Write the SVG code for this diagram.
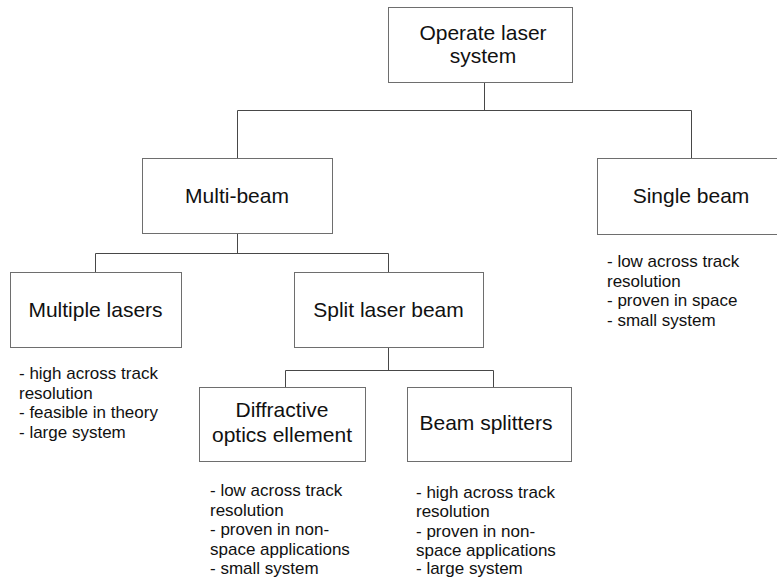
<svg xmlns="http://www.w3.org/2000/svg" width="777" height="578" viewBox="0 0 777 578">
  <style>
    .box { fill: #ffffff; stroke: #6e6e6e; stroke-width: 1; }
    .wire { fill: none; stroke: #474747; stroke-width: 1; }
    .title { font-family: "Liberation Sans", Arial, sans-serif; font-size: 21px; fill: #111; text-anchor: middle; }
    .note { font-family: "Liberation Sans", Arial, sans-serif; font-size: 17px; fill: #111; }
  </style>
  <rect width="777" height="578" fill="#ffffff"/>

  <!-- tree connectors -->
  <g id="connectors">
    <path class="wire" d="M484.5 82.5 V110.5 M237.5 158 V110.5 H691.5 V158"/>
    <path class="wire" d="M237.5 233 V253.5 M95.5 272 V253.5 H388.5 V272"/>
    <path class="wire" d="M388.5 347 V370.5 M285.5 387 V370.5 H493.5 V387"/>
  </g>

  <g id="operate">
    <rect class="box" x="388.5" y="7.5" width="184" height="75"/>
    <text class="title" x="483" y="40">Operate laser</text>
    <text class="title" x="483" y="63">system</text>
  </g>

  <g id="multi-beam">
    <rect class="box" x="142.5" y="158.5" width="190" height="75"/>
    <text class="title" x="237" y="203">Multi-beam</text>
  </g>

  <g id="single-beam">
    <rect class="box" x="597.5" y="158.5" width="190" height="76"/>
    <text class="title" x="691" y="203">Single beam</text>
    <text class="note" x="607" y="267">- low across track</text>
    <text class="note" x="607" y="286.5">resolution</text>
    <text class="note" x="607" y="306">- proven in space</text>
    <text class="note" x="607" y="325.5">- small system</text>
  </g>

  <g id="multiple-lasers">
    <rect class="box" x="10.5" y="272.5" width="171" height="75"/>
    <text class="title" x="95.5" y="317">Multiple lasers</text>
    <text class="note" x="19" y="379">- high across track</text>
    <text class="note" x="19" y="398.5">resolution</text>
    <text class="note" x="19" y="418">- feasible in theory</text>
    <text class="note" x="19" y="437.5">- large system</text>
  </g>

  <g id="split-beam">
    <rect class="box" x="294.5" y="272.5" width="189" height="75"/>
    <text class="title" x="388.5" y="317">Split laser beam</text>
  </g>

  <g id="diffractive">
    <rect class="box" x="199.5" y="387.5" width="166" height="74"/>
    <text class="title" x="282" y="417">Diffractive</text>
    <text class="title" x="282" y="442">optics ellement</text>
    <text class="note" x="210" y="496">- low across track</text>
    <text class="note" x="210" y="515.5">resolution</text>
    <text class="note" x="210" y="535">- proven in non-</text>
    <text class="note" x="210" y="554.5">space applications</text>
    <text class="note" x="210" y="573.5">- small system</text>
  </g>

  <g id="beam-splitters">
    <rect class="box" x="407.5" y="387.5" width="164" height="74"/>
    <text class="title" x="486" y="430">Beam splitters</text>
    <text class="note" x="416" y="497.5">- high across track</text>
    <text class="note" x="416" y="517">resolution</text>
    <text class="note" x="416" y="536.5">- proven in non-</text>
    <text class="note" x="416" y="555.5">space applications</text>
    <text class="note" x="416" y="574">- large system</text>
  </g>
</svg>
